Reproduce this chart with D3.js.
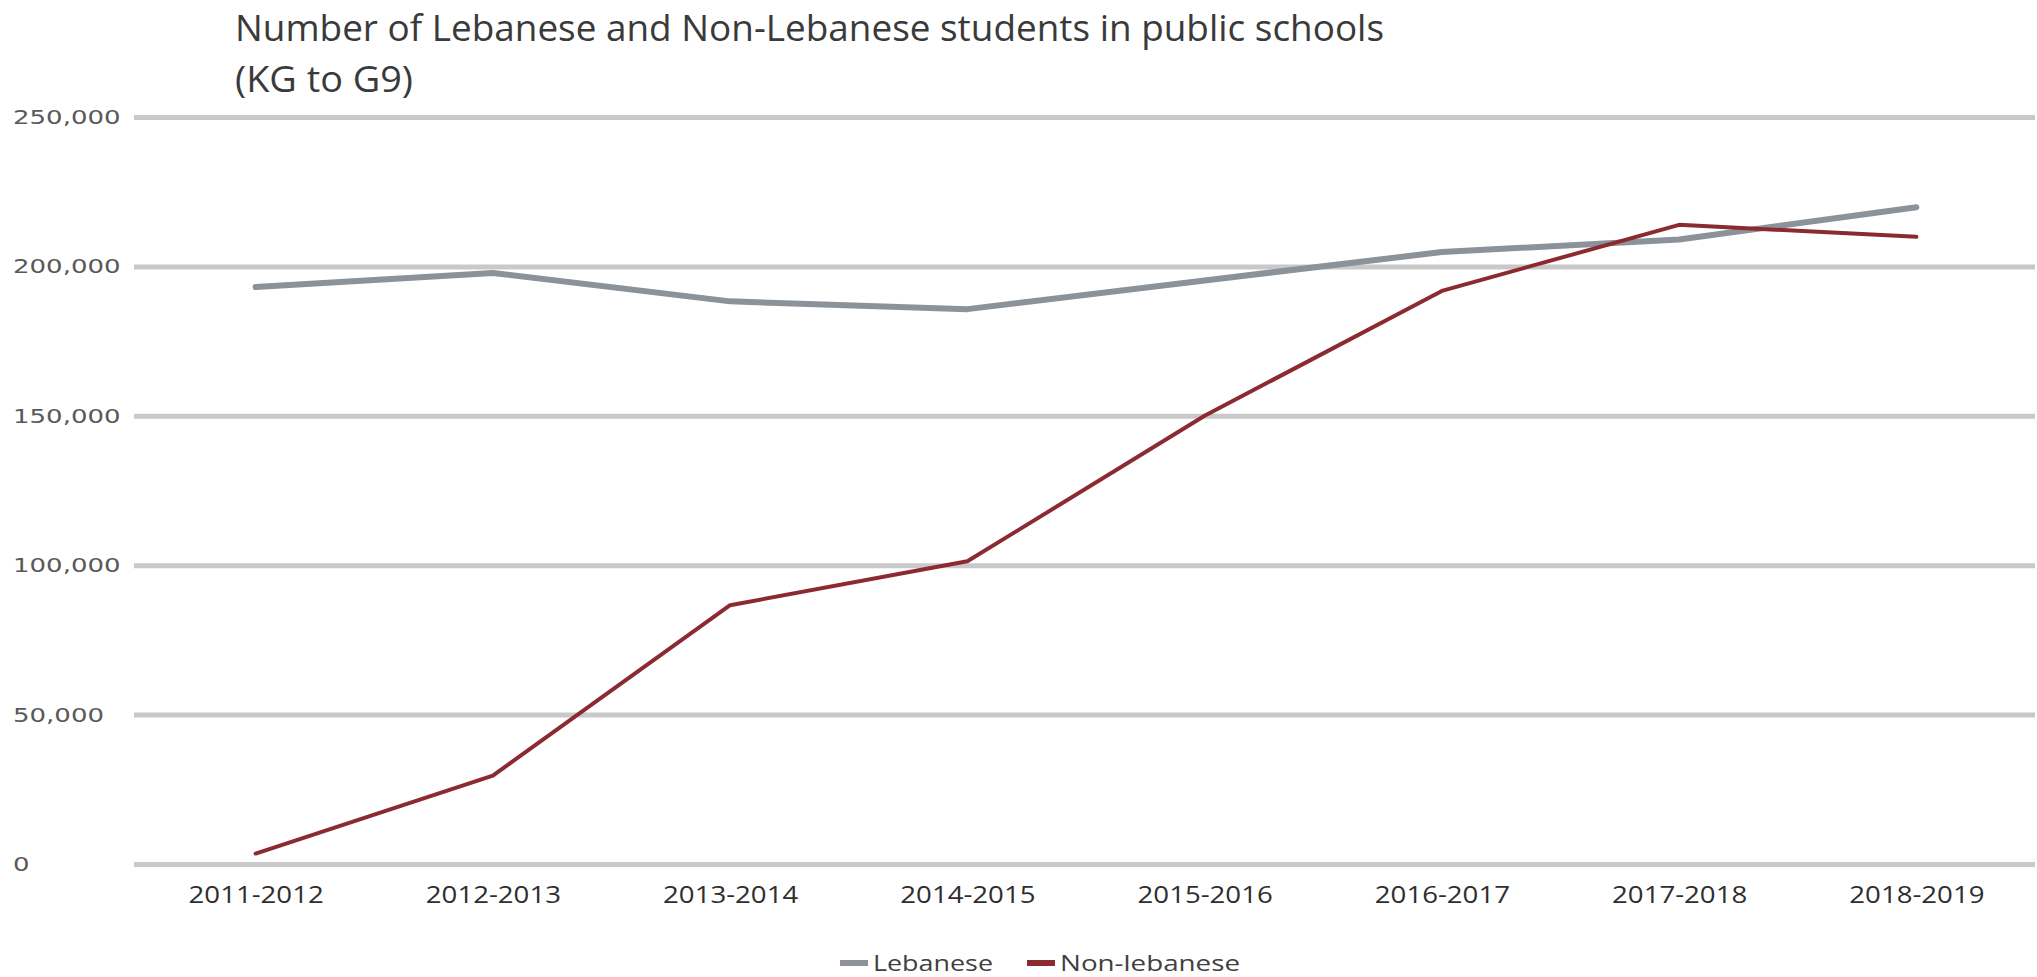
<!DOCTYPE html>
<html>
<head>
<meta charset="utf-8">
<script src="https://cdn.jsdelivr.net/npm/d3@7"></script>
<style>
  body { margin: 0; background: #fff; }
  text { font-family: "Open Sans", sans-serif; }
</style>
</head>
<body>
<div id="chart"></div>
<script>
// data

var years = ["2011-2012", "2012-2013", "2013-2014", "2014-2015", "2015-2016", "2016-2017", "2017-2018", "2018-2019"];
var lebanese = [193100, 197800, 188300, 185700, 195300, 204800, 209000, 219800];
var nonLebanese = [3500, 29600, 86600, 101300, 150000, 191800, 213900, 209900];
var yTicks = [0, 50000, 100000, 150000, 200000, 250000];
var seriesNames = ["Lebanese", "Non-lebanese"];
var seriesColors = ["#8b9299", "#8c2a31"];

// set svg size

var svgWidth = 2037;
var svgHeight = 977;

var plot = { left: 134, right: 2035, top: 117, bottom: 864 };

var svg = d3.select("#chart")
  .append("svg")
  .attr("width", svgWidth)
  .attr("height", svgHeight);

// the reference text is drawn a bit wide, so stretch each label
function stretch(sel, factor) {
  sel.each(function() {
    var w = this.getComputedTextLength();
    d3.select(this)
      .attr("textLength", w * factor)
      .attr("lengthAdjust", "spacingAndGlyphs");
  });
}

// scales

var xScale = d3.scalePoint()
  .domain(years)
  .range([plot.left + 3, plot.right])
  .padding(0.5);

var yScale = d3.scaleLinear()
  .domain([0, 250000])
  .range([plot.bottom, plot.top]);

// title

var title = svg.append("g").attr("fill", "#3a3a3a").attr("font-size", 36);
title.append("text").attr("x", 235).attr("y", 41)
  .attr("textLength", 1149)
  .attr("lengthAdjust", "spacingAndGlyphs")
  .text("Number of Lebanese and Non-Lebanese students in public schools");
title.append("text").attr("x", 235).attr("y", 92)
  .attr("textLength", 178)
  .attr("lengthAdjust", "spacingAndGlyphs")
  .text("(KG to G9)");

// y gridlines + labels

var yAxis = d3.axisLeft(yScale)
  .tickValues(yTicks)
  .tickSize(-(plot.right - plot.left))
  .tickFormat(d3.format(","));

var yG = svg.append("g")
  .attr("transform", "translate(" + plot.left + ",0)")
  .call(yAxis);

yG.select(".domain").remove();
yG.selectAll(".tick line")
  .attr("stroke", "#c9c9c9")
  .attr("stroke-width", 5);
yG.selectAll(".tick text")
  .attr("x", 13 - plot.left)
  .attr("text-anchor", "start")
  .attr("fill", "#595959")
  .style("font-family", "DejaVu Sans")
  .attr("font-size", 20);
stretch(yG.selectAll(".tick text"), 1.3);

// x axis labels

var xG = svg.append("g")
  .attr("transform", "translate(0," + plot.bottom + ")")
  .call(d3.axisBottom(xScale).tickSize(0).tickPadding(23));

xG.select(".domain").remove();
xG.selectAll(".tick text")
  .attr("fill", "#2e2e2e")
  .attr("font-size", 23);
stretch(xG.selectAll(".tick text"), 1.2);

// lines

var line = d3.line()
  .x(function(d, i) { return xScale(years[i]); })
  .y(function(d) { return yScale(d); });

svg.append("path")
  .datum(lebanese)
  .attr("d", line)
  .attr("fill", "none")
  .attr("stroke", seriesColors[0])
  .attr("stroke-width", 6)
  .attr("stroke-linejoin", "round")
  .attr("stroke-linecap", "round");

svg.append("path")
  .datum(nonLebanese)
  .attr("d", line)
  .attr("fill", "none")
  .attr("stroke", seriesColors[1])
  .attr("stroke-width", 4)
  .attr("stroke-linejoin", "round")
  .attr("stroke-linecap", "round");

// legend

var legendX = [840, 1027];
var legendW = [120, 180];
var legend = svg.append("g").selectAll("g")
  .data(seriesNames)
  .enter()
  .append("g")
  .attr("transform", function(d, i) { return "translate(" + legendX[i] + ",963)"; });

legend.append("rect")
  .attr("x", 0)
  .attr("y", -3)
  .attr("width", 28)
  .attr("height", 6)
  .attr("fill", function(d, i) { return seriesColors[i]; });

legend.append("text")
  .attr("x", 33)
  .attr("y", 8)
  .attr("fill", "#404040")
  .attr("font-size", 22)
  .attr("textLength", function(d, i) { return legendW[i]; })
  .attr("lengthAdjust", "spacingAndGlyphs")
  .text(function(d) { return d; });
</script>
</body>
</html>
